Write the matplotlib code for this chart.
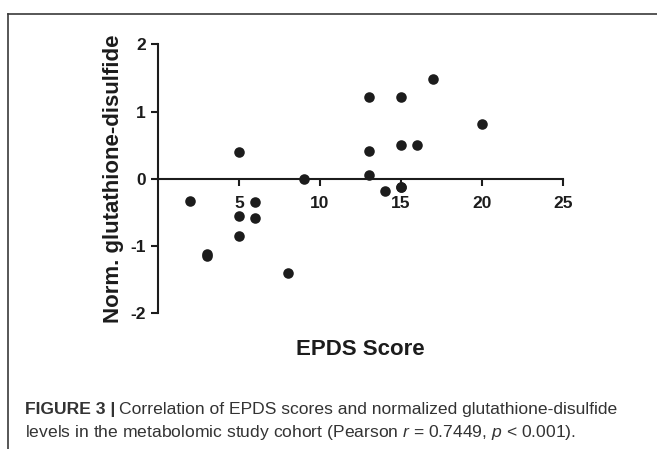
import matplotlib
matplotlib.use("Agg")
import matplotlib.pyplot as plt
from matplotlib.lines import Line2D

plt.rcParams["font.family"] = "sans-serif"
plt.rcParams["font.sans-serif"] = ["Liberation Sans", "DejaVu Sans"]
plt.rcParams["mathtext.fontset"] = "custom"
plt.rcParams["mathtext.rm"] = "Liberation Sans"
plt.rcParams["mathtext.it"] = "Liberation Sans:italic"

# EPDS score vs normalized glutathione-disulfide
epds = [2, 3, 3, 5, 5, 5, 6, 6, 8, 9, 13, 13, 13, 14, 15, 15, 15, 15, 16, 17, 20]
gssg = [-0.33, -1.12, -1.15, 0.40, -0.56, -0.86, -0.35, -0.58, -1.40, 0.0,
        1.22, 0.42, 0.05, -0.18, 1.22, 0.50, -0.12, -0.12, 0.51, 1.49, 0.82]
xticks = [5, 10, 15, 20, 25]
yticks = [-2, -1, 0, 1, 2]

ink = "#1c1c1c"

fig = plt.figure(figsize=(6.57, 4.49), dpi=100)
ax = fig.add_axes([0.2405, 0.3029, 0.6164, 0.598])

ax.plot(epds, gssg, "o", ms=7.6, color=ink, mec="none", clip_on=False)

ax.set_xlim(0, 25)
ax.set_ylim(-2, 2)
ax.set_xticks(xticks)
ax.set_yticks(yticks)
ax.set_yticklabels([str(v) for v in yticks])

for s in ["top", "right"]:
    ax.spines[s].set_visible(False)
ax.spines["bottom"].set_position(("data", 0))
for s in ["left", "bottom"]:
    ax.spines[s].set_linewidth(1.5)
    ax.spines[s].set_color(ink)
ax.tick_params(direction="out", length=5, width=1.5, color=ink, labelcolor=ink, labelsize=12.5)
ax.tick_params(axis="x", pad=7.5)
ax.tick_params(axis="y", pad=3.6)
for lab in ax.get_xticklabels() + ax.get_yticklabels():
    lab.set_fontweight("bold")

ax.text(0.5, -0.1375, "EPDS Score", transform=ax.transAxes, ha="center", va="center",
        fontsize=16, fontweight="bold", color=ink)
ax.text(-0.111, 0.5, "Norm. glutathione-disulfide", transform=ax.transAxes, rotation=90,
        ha="center", va="center", fontsize=16, fontweight="bold", color=ink)

# panel frame (top and left rules)
W, H = 657, 449
fig.add_artist(Line2D([8 / W, 1], [1 - 14 / H, 1 - 14 / H], transform=fig.transFigure,
                      color="#3a3a3a", lw=1.2))
fig.add_artist(Line2D([8 / W, 8 / W], [0, 1 - 14 / H], transform=fig.transFigure,
                      color="#3a3a3a", lw=1.2))

cap = "#333333"
t1 = fig.text(25 / W, 1 - 414 / H, "FIGURE 3 |", fontsize=12.6, fontweight="bold",
              color=cap, va="baseline")
fig.canvas.draw()
bb = t1.get_window_extent()
fig.text(bb.x1 / W + 4 / W, 1 - 414 / H,
         "Correlation of EPDS scores and normalized glutathione-disulfide",
         fontsize=12.6, color=cap, va="baseline")
fig.text(25 / W, 1 - 437 / H,
         r"levels in the metabolomic study cohort (Pearson $r$ = 0.7449, $p$ < 0.001).",
         fontsize=12.6, color=cap, va="baseline")

fig.savefig("out.png", dpi=100)
